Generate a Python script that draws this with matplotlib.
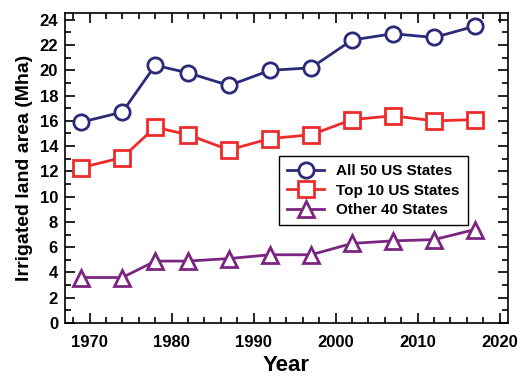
import numpy as np
import matplotlib.pyplot as plt
from matplotlib.ticker import MultipleLocator

# 数据
years = [1969, 1974, 1978, 1982, 1987, 1992, 1997, 2002, 2007, 2012, 2017]
all_50 = [15.9, 16.7, 20.4, 19.8, 18.8, 20.0, 20.2, 22.4, 22.9, 22.6, 23.5]
top_10 = [12.3, 13.1, 15.5, 14.9, 13.7, 14.6, 14.9, 16.1, 16.4, 16.0, 16.1]
other_40 = [3.6, 3.6, 4.9, 4.9, 5.1, 5.4, 5.4, 6.3, 6.5, 6.6, 7.4]
labels = ['All 50 US States', 'Top 10 US States', 'Other 40 States']

plt.rcParams['font.family'] = ['Liberation Sans', 'DejaVu Sans']
plt.rcParams['font.weight'] = 'bold'

fig = plt.figure(figsize=(5.18, 3.79), dpi=100)
ax = fig.add_axes([0.1255, 0.1478, 0.855, 0.8166])

style = dict(linewidth=2, markersize=11, markeredgewidth=2, markerfacecolor='white')
ax.plot(years, all_50, marker='o', color='#2b2a78', label=labels[0], **style)
ax.plot(years, top_10, marker='s', color='#ee2b2b', label=labels[1], **style)
ax.plot(years, other_40, marker='^', color='#7a2680', label=labels[2], **style)

ax.set_xlim(1967, 2021)
ax.set_ylim(0, 24.5)
ax.xaxis.set_major_locator(MultipleLocator(10))
ax.xaxis.set_minor_locator(MultipleLocator(2))
ax.yaxis.set_major_locator(MultipleLocator(2))
ax.yaxis.set_minor_locator(MultipleLocator(1))
ax.tick_params(which='both', direction='in', top=True, right=True, width=1.2)
ax.tick_params(which='major', length=7, labelsize=12)
ax.tick_params(axis='x', which='major', pad=9)
ax.tick_params(axis='y', which='major', pad=5)
ax.tick_params(which='minor', length=4)
for s in ax.spines.values():
    s.set_linewidth(1.2)

ax.set_xlabel('Year', fontsize=16, fontweight='bold', labelpad=3)
ax.set_ylabel('Irrigated land area (Mha)', fontsize=14, fontweight='bold', labelpad=5)

leg = ax.legend(loc='upper left', bbox_to_anchor=(0.483, 0.54), fontsize=11,
                fancybox=False, edgecolor='black', framealpha=1,
                handlelength=2.4, borderpad=0.55, labelspacing=0.35, borderaxespad=0)
leg.get_frame().set_linewidth(1.0)

fig.savefig('out.png', dpi=100)
